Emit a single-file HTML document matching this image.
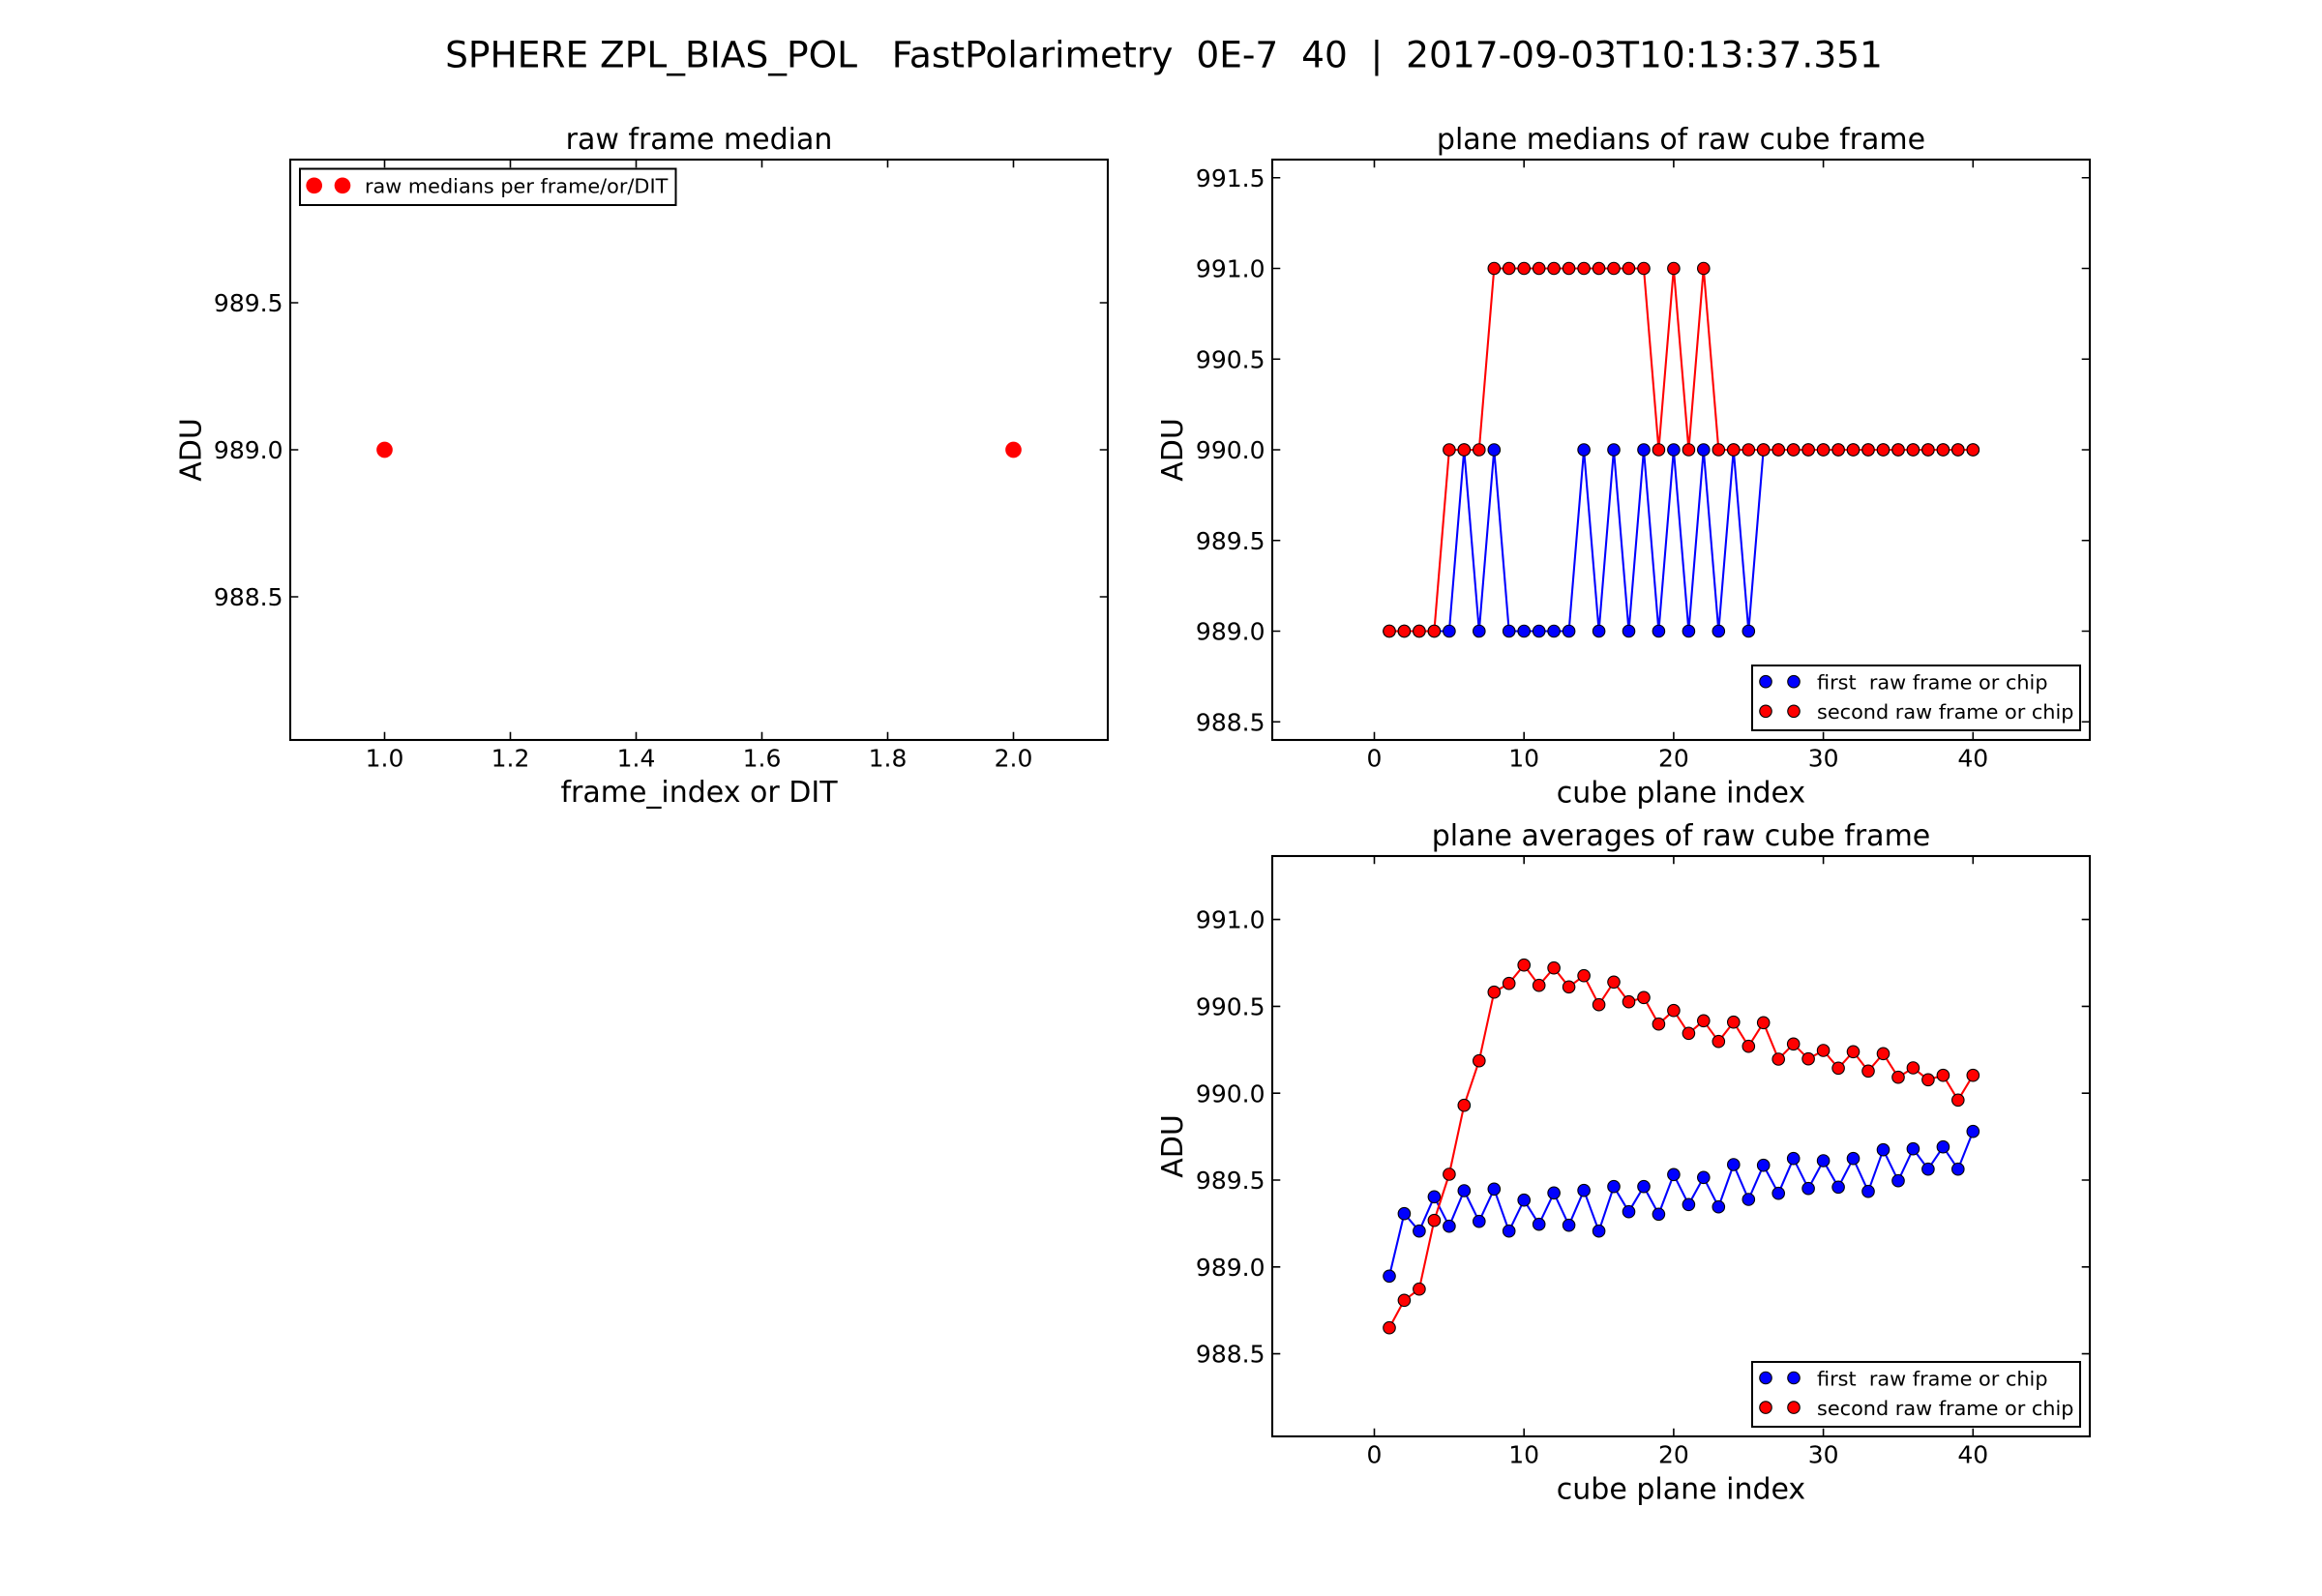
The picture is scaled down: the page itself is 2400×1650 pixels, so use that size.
<!DOCTYPE html>
<html>
<head>
<meta charset="utf-8">
<style>
  html, body { margin: 0; padding: 0; background: #ffffff; }
  body { width: 2400px; height: 1650px; overflow: hidden; }
  svg { display: block; }
  text { font-family: "DejaVu Sans", "Liberation Sans", sans-serif; fill: #000; white-space: pre; }
  .tk { font-size: 25px; }
  .lb { font-size: 30px; }
  .lg { font-size: 20.8px; }
</style>
</head>
<body>
<svg width="2400" height="1650" viewBox="0 0 2400 1650" xmlns="http://www.w3.org/2000/svg">
  <defs>
    <marker id="mb" markerUnits="userSpaceOnUse" markerWidth="16" markerHeight="16" refX="8" refY="8" viewBox="0 0 16 16" overflow="visible">
      <circle cx="8" cy="8" r="6.25" fill="#0000ff" stroke="#000" stroke-width="1.1"/>
    </marker>
    <marker id="mr" markerUnits="userSpaceOnUse" markerWidth="16" markerHeight="16" refX="8" refY="8" viewBox="0 0 16 16" overflow="visible">
      <circle cx="8" cy="8" r="6.25" fill="#ff0000" stroke="#000" stroke-width="1.1"/>
    </marker>
  </defs>
  <rect x="0" y="0" width="2400" height="1650" fill="#ffffff"/>

  <!-- Suptitle -->
  <text x="1203" y="69.3" text-anchor="middle" style="font-size:37.5px" xml:space="preserve">SPHERE ZPL_BIAS_POL   FastPolarimetry  0E-7  40  |  2017-09-03T10:13:37.351</text>

  <!-- ================= Left axes ================= -->
  <rect x="300" y="165" width="845" height="600" fill="#ffffff"/>
  <circle cx="397.5" cy="465" r="8.33" fill="#ff0000"/>
  <circle cx="1047.5" cy="465" r="8.33" fill="#ff0000"/>
  <path d="M397.5 765V756.7M527.5 765V756.7M657.5 765V756.7M787.5 765V756.7M917.5 765V756.7M1047.5 765V756.7
           M397.5 165V173.3M527.5 165V173.3M657.5 165V173.3M787.5 165V173.3M917.5 165V173.3M1047.5 165V173.3
           M300 313H308.3M300 465H308.3M300 617H308.3
           M1145 313H1136.7M1145 465H1136.7M1145 617H1136.7" stroke="#000" stroke-width="1.6" fill="none"/>
  <rect x="300" y="165" width="845" height="600" fill="none" stroke="#000" stroke-width="2.08"/>
  <g class="tk" text-anchor="middle">
    <text x="397.5" y="792.5">1.0</text>
    <text x="527.5" y="792.5">1.2</text>
    <text x="657.5" y="792.5">1.4</text>
    <text x="787.5" y="792.5">1.6</text>
    <text x="917.5" y="792.5">1.8</text>
    <text x="1047.5" y="792.5">2.0</text>
  </g>
  <g class="tk" text-anchor="end">
    <text x="292.5" y="322.1">989.5</text>
    <text x="292.5" y="474.1">989.0</text>
    <text x="292.5" y="626.1">988.5</text>
  </g>
  <text class="lb" x="722.5" y="154" text-anchor="middle">raw frame median</text>
  <text class="lb" x="722.5" y="829" text-anchor="middle">frame_index or DIT</text>
  <text class="lb" text-anchor="middle" transform="translate(207.5,465) rotate(-90)">ADU</text>
  <!-- legend -->
  <rect x="310" y="174.5" width="388.5" height="37.5" fill="#ffffff" stroke="#000" stroke-width="2"/>
  <circle cx="324.7" cy="191.8" r="8.33" fill="#ff0000"/>
  <circle cx="354" cy="191.8" r="8.33" fill="#ff0000"/>
  <text class="lg" x="377" y="199.4">raw medians per frame/or/DIT</text>

  <!-- ================= Top-right axes ================= -->
  <rect x="1315" y="165" width="845" height="600" fill="#ffffff"/>
  <polyline fill="none" stroke="#0000ff" stroke-width="2.08" stroke-linejoin="round"
    marker-start="url(#mb)" marker-mid="url(#mb)" marker-end="url(#mb)"
    points="1436.0,652.5 1451.4,652.5 1466.9,652.5 1482.4,652.5 1497.9,652.5 1513.3,465 1528.8,652.5 1544.3,465 1559.7,652.5 1575.2,652.5 1590.7,652.5 1606.1,652.5 1621.6,652.5 1637.1,465 1652.6,652.5 1668.0,465 1683.5,652.5 1699.0,465 1714.4,652.5 1729.9,465 1745.4,652.5 1760.8,465 1776.3,652.5 1791.8,465 1807.3,652.5 1822.7,465 1838.2,465 1853.7,465 1869.1,465 1884.6,465 1900.1,465 1915.5,465 1931.0,465 1946.5,465 1962.0,465 1977.4,465 1992.9,465 2008.4,465 2023.8,465 2039.3,465"/>
  <polyline fill="none" stroke="#ff0000" stroke-width="2.08" stroke-linejoin="round"
    marker-start="url(#mr)" marker-mid="url(#mr)" marker-end="url(#mr)"
    points="1436.0,652.5 1451.4,652.5 1466.9,652.5 1482.4,652.5 1497.9,465 1513.3,465 1528.8,465 1544.3,277.5 1559.7,277.5 1575.2,277.5 1590.7,277.5 1606.1,277.5 1621.6,277.5 1637.1,277.5 1652.6,277.5 1668.0,277.5 1683.5,277.5 1699.0,277.5 1714.4,465 1729.9,277.5 1745.4,465 1760.8,277.5 1776.3,465 1791.8,465 1807.3,465 1822.7,465 1838.2,465 1853.7,465 1869.1,465 1884.6,465 1900.1,465 1915.5,465 1931.0,465 1946.5,465 1962.0,465 1977.4,465 1992.9,465 2008.4,465 2023.8,465 2039.3,465"/>
  <path d="M1420.5 765V756.7M1575.2 765V756.7M1729.9 765V756.7M1884.6 765V756.7M2039.3 765V756.7
           M1420.5 165V173.3M1575.2 165V173.3M1729.9 165V173.3M1884.6 165V173.3M2039.3 165V173.3
           M1315 183.75H1323.3M1315 277.5H1323.3M1315 371.25H1323.3M1315 465H1323.3M1315 558.75H1323.3M1315 652.5H1323.3M1315 746.25H1323.3
           M2160 183.75H2151.7M2160 277.5H2151.7M2160 371.25H2151.7M2160 465H2151.7M2160 558.75H2151.7M2160 652.5H2151.7M2160 746.25H2151.7" stroke="#000" stroke-width="1.6" fill="none"/>
  <rect x="1315" y="165" width="845" height="600" fill="none" stroke="#000" stroke-width="2.08"/>
  <g class="tk" text-anchor="middle">
    <text x="1420.5" y="792.5">0</text>
    <text x="1575.2" y="792.5">10</text>
    <text x="1729.9" y="792.5">20</text>
    <text x="1884.6" y="792.5">30</text>
    <text x="2039.3" y="792.5">40</text>
  </g>
  <g class="tk" text-anchor="end">
    <text x="1307.5" y="192.85">991.5</text>
    <text x="1307.5" y="286.6">991.0</text>
    <text x="1307.5" y="380.35">990.5</text>
    <text x="1307.5" y="474.1">990.0</text>
    <text x="1307.5" y="567.85">989.5</text>
    <text x="1307.5" y="661.6">989.0</text>
    <text x="1307.5" y="755.35">988.5</text>
  </g>
  <text class="lb" x="1737.5" y="154" text-anchor="middle">plane medians of raw cube frame</text>
  <text class="lb" x="1737.5" y="829.5" text-anchor="middle">cube plane index</text>
  <text class="lb" text-anchor="middle" transform="translate(1222,465) rotate(-90)">ADU</text>
  <!-- legend -->
  <rect x="1811" y="688" width="339" height="67" fill="#ffffff" stroke="#000" stroke-width="2"/>
  <circle cx="1825" cy="704.7" r="6.25" fill="#0000ff" stroke="#000" stroke-width="1.1"/>
  <circle cx="1854" cy="704.7" r="6.25" fill="#0000ff" stroke="#000" stroke-width="1.1"/>
  <circle cx="1825" cy="735.3" r="6.25" fill="#ff0000" stroke="#000" stroke-width="1.1"/>
  <circle cx="1854" cy="735.3" r="6.25" fill="#ff0000" stroke="#000" stroke-width="1.1"/>
  <text class="lg" x="1878" y="712.5" xml:space="preserve">first  raw frame or chip</text>
  <text class="lg" x="1878" y="743.1">second raw frame or chip</text>

  <!-- ================= Bottom-right axes ================= -->
  <rect x="1315" y="885" width="845" height="600" fill="#ffffff"/>
  <polyline fill="none" stroke="#0000ff" stroke-width="2.08" stroke-linejoin="round"
    marker-start="url(#mb)" marker-mid="url(#mb)" marker-end="url(#mb)"
    points="1436.0,1319.3 1451.4,1254.7 1466.9,1272.7 1482.4,1237.3 1497.9,1267.7 1513.3,1231 1528.8,1262.7 1544.3,1229.3 1559.7,1272.7 1575.2,1240.7 1590.7,1265.7 1606.1,1233.3 1621.6,1266.7 1637.1,1230.7 1652.6,1272.7 1668.0,1226.7 1683.5,1252.7 1699.0,1226.7 1714.4,1255.3 1729.9,1214.3 1745.4,1245.3 1760.8,1217.3 1776.3,1247.7 1791.8,1204 1807.3,1240 1822.7,1204.7 1838.2,1233.7 1853.7,1197.7 1869.1,1228.7 1884.6,1200 1900.1,1227.3 1915.5,1197.7 1931.0,1231.7 1946.5,1188.7 1962.0,1220.7 1977.4,1187.7 1992.9,1208.7 2008.4,1185.7 2023.8,1208.7 2039.3,1169.7"/>
  <polyline fill="none" stroke="#ff0000" stroke-width="2.08" stroke-linejoin="round"
    marker-start="url(#mr)" marker-mid="url(#mr)" marker-end="url(#mr)"
    points="1436.0,1372.7 1451.4,1344.3 1466.9,1332.7 1482.4,1261.7 1497.9,1214 1513.3,1142.7 1528.8,1096.7 1544.3,1025.7 1559.7,1016.7 1575.2,997.7 1590.7,1018.7 1606.1,1000.7 1621.6,1020.3 1637.1,1008.7 1652.6,1038.7 1668.0,1015.3 1683.5,1035.7 1699.0,1031.3 1714.4,1058.7 1729.9,1044.7 1745.4,1068.3 1760.8,1055.3 1776.3,1076.7 1791.8,1056.7 1807.3,1081.7 1822.7,1057.3 1838.2,1095 1853.7,1079.3 1869.1,1094.7 1884.6,1086 1900.1,1104.3 1915.5,1087.3 1931.0,1107.3 1946.5,1089.3 1962.0,1113.7 1977.4,1104 1992.9,1116.3 2008.4,1111.7 2023.8,1137.3 2039.3,1111.7"/>
  <path d="M1420.5 1485V1476.7M1575.2 1485V1476.7M1729.9 1485V1476.7M1884.6 1485V1476.7M2039.3 1485V1476.7
           M1420.5 885V893.3M1575.2 885V893.3M1729.9 885V893.3M1884.6 885V893.3M2039.3 885V893.3
           M1315 950.6H1323.3M1315 1040.4H1323.3M1315 1130.2H1323.3M1315 1220H1323.3M1315 1309.8H1323.3M1315 1399.6H1323.3
           M2160 950.6H2151.7M2160 1040.4H2151.7M2160 1130.2H2151.7M2160 1220H2151.7M2160 1309.8H2151.7M2160 1399.6H2151.7" stroke="#000" stroke-width="1.6" fill="none"/>
  <rect x="1315" y="885" width="845" height="600" fill="none" stroke="#000" stroke-width="2.08"/>
  <g class="tk" text-anchor="middle">
    <text x="1420.5" y="1512.6">0</text>
    <text x="1575.2" y="1512.6">10</text>
    <text x="1729.9" y="1512.6">20</text>
    <text x="1884.6" y="1512.6">30</text>
    <text x="2039.3" y="1512.6">40</text>
  </g>
  <g class="tk" text-anchor="end">
    <text x="1307.5" y="959.7">991.0</text>
    <text x="1307.5" y="1049.5">990.5</text>
    <text x="1307.5" y="1139.3">990.0</text>
    <text x="1307.5" y="1229.1">989.5</text>
    <text x="1307.5" y="1318.9">989.0</text>
    <text x="1307.5" y="1408.7">988.5</text>
  </g>
  <text class="lb" x="1737.5" y="874" text-anchor="middle">plane averages of raw cube frame</text>
  <text class="lb" x="1737.5" y="1549.5" text-anchor="middle">cube plane index</text>
  <text class="lb" text-anchor="middle" transform="translate(1222,1185) rotate(-90)">ADU</text>
  <!-- legend -->
  <rect x="1811" y="1408" width="339" height="67" fill="#ffffff" stroke="#000" stroke-width="2"/>
  <circle cx="1825" cy="1424.5" r="6.25" fill="#0000ff" stroke="#000" stroke-width="1.1"/>
  <circle cx="1854" cy="1424.5" r="6.25" fill="#0000ff" stroke="#000" stroke-width="1.1"/>
  <circle cx="1825" cy="1455.1" r="6.25" fill="#ff0000" stroke="#000" stroke-width="1.1"/>
  <circle cx="1854" cy="1455.1" r="6.25" fill="#ff0000" stroke="#000" stroke-width="1.1"/>
  <text class="lg" x="1878" y="1432.3" xml:space="preserve">first  raw frame or chip</text>
  <text class="lg" x="1878" y="1462.9">second raw frame or chip</text>
</svg>
</body>
</html>
